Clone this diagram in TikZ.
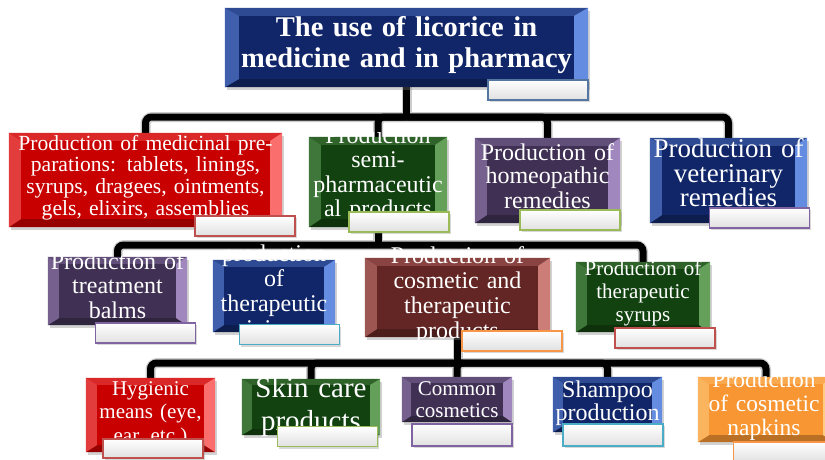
\documentclass[tikz,border=0pt]{standalone}
\usepackage{fontspec}
\setmainfont{Liberation Serif}
\usetikzlibrary{shadows}
\pgfdeclarelayer{bg}
\pgfsetlayers{bg,main}
\definecolor{cNavy}{RGB}{17,38,104}
\definecolor{cRed}{RGB}{200,0,0}
\definecolor{cGreen}{RGB}{18,66,16}
\definecolor{cPurple}{RGB}{64,49,84}
\definecolor{cBrown}{RGB}{100,38,36}
\definecolor{cOrange}{RGB}{247,150,50}
\definecolor{hNavy}{RGB}{100,140,225}
\definecolor{hRed}{RGB}{250,110,110}
\definecolor{hGreen}{RGB}{100,160,90}
\definecolor{hPurple}{RGB}{160,135,190}
\definecolor{hBrown}{RGB}{205,125,120}
\definecolor{hOrange}{RGB}{255,205,130}
\definecolor{lBlue}{RGB}{84,118,160}
\definecolor{lRed}{RGB}{192,80,77}
\definecolor{lGreen}{RGB}{155,187,89}
\definecolor{lPurple}{RGB}{128,100,162}
\definecolor{lTeal}{RGB}{75,172,198}
\definecolor{lOrange}{RGB}{247,150,70}
\tikzset{
  box/.style={fill=#1, inner sep=0pt, drop shadow={shadow xshift=2pt,shadow yshift=-3pt,opacity=.35}},
  lab/.style={draw=#1, line width=1.5pt, top color=white, bottom color=black!12, minimum width=100pt, minimum height=20pt, inner sep=0pt, drop shadow={shadow xshift=1.5pt,shadow yshift=-2pt,opacity=.3}},
  txt/.style={text=white, inner sep=0pt, text width=380pt, align=center, anchor=base},
  conn/.style={line width=7pt, black, rounded corners=6pt},
  halo/.style={line width=10pt, black!20, rounded corners=7pt},
}
% #1 node, #2 base colour, #3 highlight colour, #4 side inset, #5 top/bottom inset
\newcommand\bev[5]{%
  \fill[#2!65!#3] (#1.north west) -- (#1.north east) -- ([shift={(-#4,-#5)}]#1.north east) -- ([shift={(#4,-#5)}]#1.north west) -- cycle;
  \fill[#2!75!black] (#1.south west) -- (#1.south east) -- ([shift={(-#4,#5)}]#1.south east) -- ([shift={(#4,#5)}]#1.south west) -- cycle;
  \fill[#3!55!#2] (#1.north west) -- (#1.south west) -- ([shift={(#4,#5)}]#1.south west) -- ([shift={(#4,-#5)}]#1.north west) -- cycle;
  \fill[#3] (#1.north east) -- (#1.south east) -- ([shift={(-#4,#5)}]#1.south east) -- ([shift={(-#4,-#5)}]#1.north east) -- cycle;
}
\newcommand\treelines[1]{%
  \draw[#1] (bTitle.south) -- (bTitle.south |- bar1);
  \foreach \c in {bMed,bSemi,bHomeo,bVet} {\draw[#1] (bTitle.south |- bar1) -| (\c.north);}
  \draw[#1] (bSemi.south) -- (bSemi.south |- bar2);
  \foreach \c in {bBalm,bSyrup} {\draw[#1] (bSemi.south |- bar2) -| (\c.north);}
  \draw[#1] (bCosm.south) -- (bCosm.south |- bar3);
  \foreach \c in {bHyg,bSkin,bCommon,bShamp,bNapk} {\draw[#1] (bCosm.south |- bar3) -| (\c.north);}
}
\begin{document}
\begin{tikzpicture}[x=1pt,y=-1pt]
\useasboundingbox (0,0) rectangle (825,460);
\coordinate (bar1) at (0,117);
\coordinate (bar2) at (0,245);
\coordinate (bar3) at (0,363);

% ---- boxes ----
\node[box=cNavy, minimum width=363pt, minimum height=79pt] (bTitle) at (406.5,47.5) {};
\bev{bTitle}{cNavy}{hNavy}{14pt}{8pt}
\node[box=cRed, minimum width=273pt, minimum height=94pt] (bMed) at (145.5,180) {};
\bev{bMed}{cRed}{hRed}{12pt}{8pt}
\node[box=cGreen, minimum width=138pt, minimum height=90pt] (bSemi) at (378,182) {};
\bev{bSemi}{cGreen}{hGreen}{12pt}{8pt}
\node[box=cPurple, minimum width=145pt, minimum height=85pt] (bHomeo) at (547.5,180.5) {};
\bev{bHomeo}{cPurple}{hPurple}{12pt}{8pt}
\node[box=cNavy, minimum width=157pt, minimum height=85pt] (bVet) at (728.5,180.5) {};
\bev{bVet}{cNavy}{hNavy}{12pt}{8pt}

\node[box=cPurple, minimum width=139pt, minimum height=68pt] (bBalm) at (117.5,291) {};
\bev{bBalm}{cPurple}{hPurple}{11pt}{7pt}
\node[box=cNavy, minimum width=122pt, minimum height=72pt] (bJuice) at (274,296) {};
\bev{bJuice}{cNavy}{hNavy}{11pt}{7pt}
\node[box=cBrown, minimum width=185pt, minimum height=79pt] (bCosm) at (457.5,297.5) {};
\bev{bCosm}{cBrown}{hBrown}{12pt}{8pt}
\node[box=cGreen, minimum width=134pt, minimum height=70pt] (bSyrup) at (643,297) {};
\bev{bSyrup}{cGreen}{hGreen}{11pt}{7pt}

\node[box=cRed, minimum width=129pt, minimum height=74pt] (bHyg) at (150.5,415) {};
\bev{bHyg}{cRed}{hRed}{11pt}{7pt}
\node[box=cGreen, minimum width=138pt, minimum height=56pt] (bSkin) at (311,407) {};
\bev{bSkin}{cGreen}{hGreen}{10pt}{6pt}
\node[box=cPurple, minimum width=110pt, minimum height=45pt] (bCommon) at (457,399.5) {};
\bev{bCommon}{cPurple}{hPurple}{9pt}{6pt}
\node[box=cNavy, minimum width=109pt, minimum height=55pt] (bShamp) at (607.5,404.5) {};
\bev{bShamp}{cNavy}{hNavy}{10pt}{6pt}
\node[box=cOrange, minimum width=136pt, minimum height=65pt] (bNapk) at (766,409.5) {};
\bev{bNapk}{cOrange}{hOrange}{11pt}{7pt}

% ---- texts ----
\node[txt, font=\bfseries\fontsize{28.5}{31}\selectfont] (tTitle) at (406.5,37) {The use of licorice in\\medicine and in pharmacy};
\node[txt, font=\fontsize{21.6}{21.7}\selectfont] (tMed) at (145.5,150) {Production of medicinal pre-\\parations: tablets, linings,\\syrups, dragees, ointments,\\gels, elixirs, assemblies};
\node[txt, font=\fontsize{24}{24.5}\selectfont] (tSemi) at (378,143) {Production\\semi-\\pharmaceutic\\al products};
\node[txt, font=\fontsize{24}{24}\selectfont] (tHomeo) at (547.5,160) {Production of\\homeopathic\\remedies};
\node[txt, font=\fontsize{27}{25}\selectfont] (tVet) at (728.5,157) {Production of\\veterinary\\remedies};
\node[txt, font=\fontsize{24}{24.5}\selectfont] (tBalm) at (117.5,269) {Production of\\treatment\\balms};
\node[txt, font=\fontsize{24}{25}\selectfont] (tJuice) at (274,261) {production\\of\\therapeutic\\juices};
\node[txt, font=\fontsize{24}{25}\selectfont] (tCosm) at (457.5,263) {Production of\\cosmetic and\\therapeutic\\products};
\node[txt, font=\fontsize{21}{23}\selectfont] (tSyrup) at (643,275) {Production of\\therapeutic\\syrups};
\node[txt, font=\fontsize{21}{23.5}\selectfont] (tHyg) at (150.5,395) {Hygienic\\means (eye,\\ear, etc.)};
\node[txt, font=\fontsize{29}{33}\selectfont] (tSkin) at (311,397) {Skin care\\products};
\node[txt, font=\fontsize{21}{22}\selectfont] (tCommon) at (457,395) {Common\\cosmetics};
\node[txt, font=\fontsize{24}{23}\selectfont] (tShamp) at (607.5,397) {Shampoo\\production};
\node[txt, font=\fontsize{23.5}{24}\selectfont] (tNapk) at (764,387) {Production\\of cosmetic\\napkins};

% ---- labels ----
\node[lab=lBlue] (lTitle) at (538,90) {};
\node[lab=lRed] (lMed) at (245,226) {};
\node[lab=lGreen] (lSemi) at (399,222) {};
\node[lab=lGreen] (lHomeo) at (570,220) {};
\node[lab=lPurple] (lVet) at (759.5,218) {};
\node[lab=lPurple] (lBalm) at (145.5,333) {};
\node[lab=lTeal] (lJuice) at (289.5,334.5) {};
\node[lab=lOrange] (lCosm) at (512,341) {};
\node[lab=lRed] (lSyrup) at (665,338) {};
\node[lab=lRed, minimum height=19pt] (lHyg) at (153,448.5) {};
\node[lab=lGreen] (lSkin) at (327.5,436.5) {};
\node[lab=lPurple, minimum height=22pt] (lCommon) at (462,435) {};
\node[lab=lTeal, minimum height=22pt] (lShamp) at (613,435) {};
\node[lab=lOrange] (lNapk) at (783.5,452) {};

% ---- connectors ----
\begin{pgfonlayer}{bg}
  \fill[white] (0,0) rectangle (825,460);
  \treelines{halo}
  \treelines{conn}
\end{pgfonlayer}
\end{tikzpicture}
\end{document}
